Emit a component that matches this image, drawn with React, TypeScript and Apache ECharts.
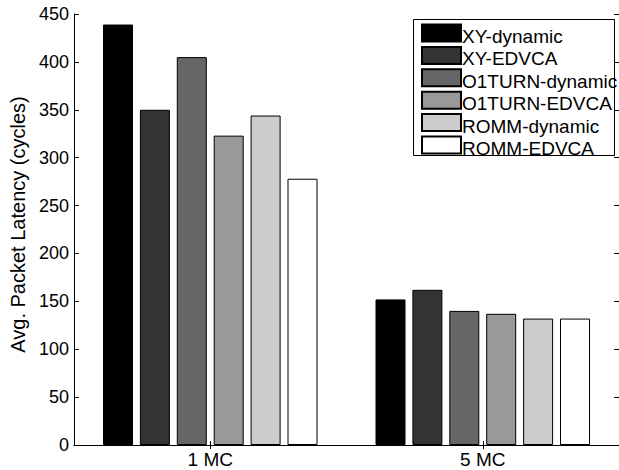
import React, { useEffect, useRef } from "react";
import * as echarts from "echarts";

const categories = ["1 MC", "5 MC"];
const seriesNames = [
  "XY-dynamic",
  "XY-EDVCA",
  "O1TURN-dynamic",
  "O1TURN-EDVCA",
  "ROMM-dynamic",
  "ROMM-EDVCA",
];
const xyDynamic = [439, 152];
const xyEdvca = [350, 162];
const o1turnDynamic = [405, 140];
const o1turnEdvca = [323, 137];
const rommDynamic = [344, 132];
const rommEdvca = [278, 132];
const seriesValues = [xyDynamic, xyEdvca, o1turnDynamic, o1turnEdvca, rommDynamic, rommEdvca];
const seriesColors = ["#000000", "#333333", "#666666", "#999999", "#cccccc", "#ffffff"];
const yTicks = { min: 0, max: 450, interval: 50 };
const yTitle = "Avg. Packet Latency (cycles)";

const FONT = "'Liberation Sans', Arial, Helvetica, sans-serif";

export default function App() {
  const ref = useRef<HTMLDivElement>(null);
  useEffect(() => {
    if (!ref.current) return;
    const chart = echarts.init(ref.current, undefined, { renderer: "svg" });
    const axisLine = { show: true, lineStyle: { color: "#000", width: 1 } };
    chart.setOption({
      animation: false,
      backgroundColor: "#fff",
      textStyle: { fontFamily: FONT },
      grid: { left: 73, top: 14, right: -2, bottom: 25, containLabel: false },
      xAxis: [
        {
          type: "category",
          data: categories,
          position: "bottom",
          axisLine,
          axisTick: { show: true, inside: true, alignWithLabel: true, length: 4, lineStyle: { color: "#000" } },
          axisLabel: { color: "#000", fontSize: 19, fontFamily: FONT, margin: 5 },
          splitLine: { show: false },
        },
        {
          type: "category",
          data: categories,
          position: "top",
          axisLine,
          axisTick: { show: true, inside: true, alignWithLabel: true, length: 4, lineStyle: { color: "#000" } },
          axisLabel: { show: false },
          splitLine: { show: false },
        },
      ],
      yAxis: [
        {
          type: "value",
          min: yTicks.min,
          max: yTicks.max,
          interval: yTicks.interval,
          position: "left",
          name: yTitle,
          nameLocation: "middle",
          nameGap: 46,
          nameTextStyle: { color: "#000", fontSize: 20, fontFamily: FONT, padding: [0, 0, 0, 10] },
          axisLine,
          axisTick: { show: true, inside: true, length: 5, lineStyle: { color: "#000" } },
          axisLabel: { color: "#000", fontSize: 18, fontFamily: FONT, margin: 5 },
          splitLine: { show: false },
        },
        {
          type: "value",
          min: yTicks.min,
          max: yTicks.max,
          interval: yTicks.interval,
          position: "right",
          axisLine,
          axisTick: { show: true, inside: true, length: 5, lineStyle: { color: "#000" } },
          axisLabel: { show: false },
          splitLine: { show: false },
        },
      ],
      graphic: [
        {
          type: "rect",
          z: 5,
          shape: { x: 413.5, y: 19.5, width: 201, height: 136 },
          style: { fill: "#fff", stroke: "#000", lineWidth: 1 },
        },
      ],
      legend: {
        z: 10,
        orient: "vertical",
        left: 413,
        top: 20,
        padding: [0, 0, 0, 8],
        itemWidth: 39,
        itemHeight: 17,
        itemGap: -3.6,
        icon: "rect",
        data: seriesNames,
        formatter: "{t|{name}}",
        textStyle: {
          color: "#000",
          fontSize: 19,
          fontFamily: FONT,
          rich: {
            t: {
              color: "#000",
              fontSize: 19,
              fontFamily: FONT,
              lineHeight: 17,
              padding: [7, 0, 0, -4],
            },
          },
        },
      },
      series: seriesNames.map((name, i) => ({
        name,
        type: "bar",
        data: seriesValues[i],
        barWidth: 30,
        barGap: "23%",
        itemStyle: { color: seriesColors[i], borderColor: "#000", borderWidth: 1 },
      })),
    });
    return () => chart.dispose();
  }, []);
  return (
    <div
      ref={ref}
      style={{ position: "absolute", left: 0, top: 0, width: 619, height: 470 }}
    />
  );
}
